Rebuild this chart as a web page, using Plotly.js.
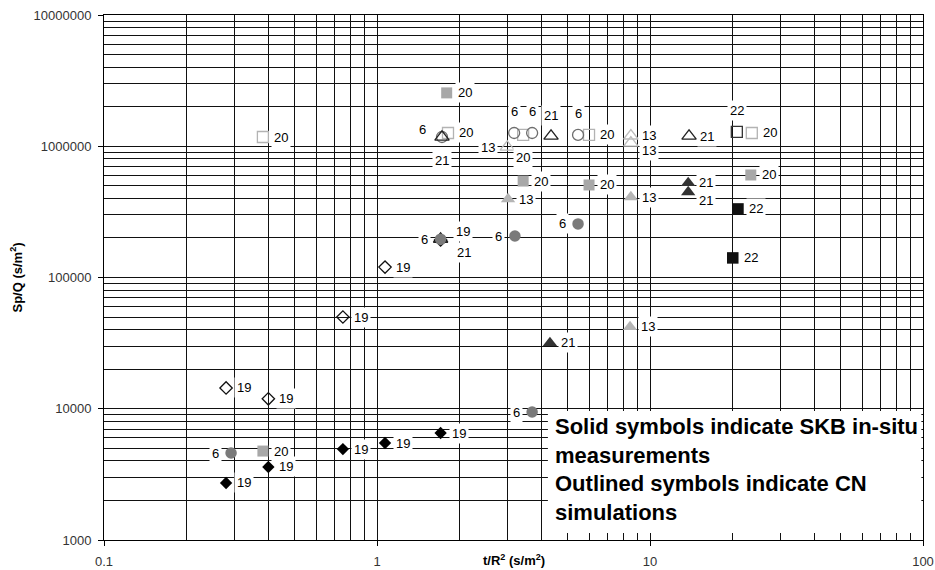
<!DOCTYPE html>
<html>
<head>
<meta charset="utf-8">
<script src="https://cdn.plot.ly/plotly-3.0.1.min.js"></script>
<style>
html,body{margin:0;padding:0;background:#fff;}
#chart{width:935px;height:570px;}
</style>
</head>
<body>
<div id="chart"></div>
<script>
// ---- Axis tick labels ----
const xTickVals = [0.1, 1, 10, 100];
const xTickText = ['0.1', '1', '10', '100'];
const yTickVals = [1000, 10000, 100000, 1000000, 10000000];
const yTickText = ['1000', '10000', '100000', '1000000', '10000000'];

// ---- Borehole 19 (diamonds) ----
const x19 = [0.28, 0.40, 0.75, 1.07, 1.71];
const skb19 = [2720, 3600, 4930, 5480, 6530];
const cn19 = [14400, 11900, 50000, 120000, 193000];

// ---- Borehole 6 (circles) ----
const xSkb6 = [0.292, 1.71, 3.20, 5.45, 3.70];
const skb6 = [4600, 196000, 207000, 256000, 9440];
const xCn6 = [1.73, 3.18, 3.70, 5.45];
const cn6 = [1176000, 1262000, 1262000, 1220000];

// ---- Borehole 20 (grey squares) ----
const x20 = [0.382, 1.80, 3.43, 5.98, 23.4];
const skb20 = [4760, 2550000, 543000, 507000, 604000];
const xCn20 = [0.382, 1.82, 3.43, 5.98, 23.6];
const cn20 = [1176000, 1262000, 1220000, 1220000, 1262000];

// ---- Borehole 13 (light grey triangles) ----
const xSkb13 = [3.02, 8.51, 8.45];
const skb13 = [396000, 410000, 42000];
const xCn13 = [3.00, 8.51, 8.51];
const cn13 = [987000, 1200000, 1060000];

// ---- Borehole 21 (dark triangles) ----
const xSkb21 = [4.30, 13.8, 13.8];
const skb21 = [31700, 525000, 448000];
const xCn21 = [1.73, 1.71, 4.34, 13.9];
const cn21 = [1176000, 196000, 1197000, 1197000];

// ---- Borehole 22 (black squares) ----
const xSkb22 = [21.0, 20.1];
const skb22 = [333000, 141000];
const xCn22 = [20.8];
const cn22 = [1285000];

// ---- Text ----
const yTitle = '<b>Sp/Q (s/m<sup>2</sup>)</b>';
const xTitle = '<b>t/R<sup>2</sup> (s/m<sup>2</sup>)</b>';
const noteLines = ['Solid symbols indicate SKB in-situ', 'measurements', 'Outlined symbols indicate CN', 'simulations'];

// ---- Series styling and label placement ----
const series = [
  {x: xCn13, y: cn13, label: '13', place: ['l2', 'r', 'rd'], symbol: 'triangle-up-open', color: '#bdbdbd', size: 12.5},
  {x: xCn20, y: cn20, label: '20', place: ['r', 'r', 'b', 'r', 'r'], symbol: 'square-open', color: '#b3b3b3', size: 11},
  {x: xCn6, y: cn6, label: '6', place: ['ul', 'a', 'a', 'a'], symbol: 'circle-open', color: '#6e6e6e', size: 11},
  {x: xCn21, y: cn21, label: '21', place: ['b', 'dr', 'a', 'r'], symbol: 'triangle-up-open', color: '#222222', size: 12.5},
  {x: xCn22, y: cn22, label: '22', place: ['a'], symbol: 'square-open', color: '#333333', size: 11},
  {x: x19, y: cn19, label: '19', place: ['r', 'r', 'r', 'r', 'ur'], symbol: 'diamond-open', color: '#111111', size: 9.5},
  {x: xSkb6, y: skb6, label: '6', place: ['l', 'l', 'l', 'l', 'l'], symbol: 'circle', color: '#7a7a7a', size: 11.5},
  {x: x19, y: skb19, label: '19', place: ['r', 'r', 'r', 'r', 'r'], symbol: 'diamond', color: '#000000', size: 9.5},
  {x: x20, y: skb20, label: '20', place: ['r', 'r', 'r', 'r', 'r'], symbol: 'square', color: '#a8a8a8', size: 11},
  {x: xSkb13, y: skb13, label: '13', place: ['r', 'r', 'r'], symbol: 'triangle-up', color: '#b5b5b5', size: 12.5},
  {x: xSkb21, y: skb21, label: '21', place: ['r', 'r', 'rd'], symbol: 'triangle-up', color: '#333333', size: 12.5},
  {x: xSkb22, y: skb22, label: '22', place: ['r', 'r'], symbol: 'square', color: '#111111', size: 11.5}
];

// label centre offsets relative to the marker, in pixels (dy positive = down)
const placeOffsets = {
  r: [18, 0], l: [-16, 0], l2: [-19, 0], a: [0, -21], b: [0, 23],
  ul: [-19, -8], ur: [22, -9], dr: [23, 13], rd: [18, 8]
};

const font = 'Arial, "Liberation Sans", sans-serif';

const traces = series.map(s => {
  const open = s.symbol.indexOf('open') >= 0;
  return {
    type: 'scatter', mode: 'markers', x: s.x, y: s.y,
    hoverinfo: 'skip', showlegend: false,
    marker: {
      symbol: s.symbol, size: s.size, color: s.color,
      line: open ? {width: 1.3, color: s.color} : {width: 0}
    }
  };
});

const annotations = [];
series.forEach(s => {
  s.x.forEach((xv, i) => {
    const off = placeOffsets[s.place[i]];
    annotations.push({
      x: Math.log10(xv), y: Math.log10(s.y[i]), xref: 'x', yref: 'y',
      text: s.label, showarrow: false, xanchor: 'center', yanchor: 'middle',
      xshift: off[0], yshift: -off[1],
      bgcolor: '#ffffff', borderpad: 2,
      font: {family: font, size: 13, color: '#000'}
    });
  });
});

// x axis title (sits on the tick-label row, as in the original)
annotations.push({
  xref: 'paper', yref: 'paper', x: 0.5, y: -0.038, xanchor: 'center', yanchor: 'middle',
  text: xTitle, showarrow: false, font: {family: font, size: 13, color: '#000'}
});

// note text
annotations.push({
  xref: 'paper', yref: 'paper', x: 0.549, y: 0.242, xanchor: 'left', yanchor: 'top',
  align: 'left', showarrow: false, borderpad: 0,
  text: noteLines.map(t => '<b>' + t + '</b>').join('<br>'),
  font: {family: font, size: 22, color: '#000'}
});

const gridColor = '#111111';

const layout = {
  width: 935, height: 570,
  margin: {l: 104, r: 12, t: 15, b: 30},
  paper_bgcolor: '#ffffff', plot_bgcolor: '#ffffff',
  font: {family: font, size: 13, color: '#222'},
  showlegend: false,
  xaxis: {
    type: 'log', range: [-1, 2], autorange: false,
    tickmode: 'array', tickvals: xTickVals, ticktext: xTickText,
    ticks: 'outside', ticklen: 5, tickcolor: '#000', ticklabelstandoff: 4,
    showgrid: true, gridcolor: gridColor, gridwidth: 1,
    minor: {dtick: 'D1', showgrid: true, gridcolor: gridColor, gridwidth: 1, ticks: ''},
    showline: true, linecolor: '#000', linewidth: 1, mirror: true,
    zeroline: false, tickfont: {family: font, size: 13, color: '#333'}
  },
  yaxis: {
    type: 'log', range: [3, 7], autorange: false,
    tickmode: 'array', tickvals: yTickVals, ticktext: yTickText,
    ticks: 'outside', ticklen: 5, tickcolor: '#000', ticklabelstandoff: 4,
    showgrid: true, gridcolor: gridColor, gridwidth: 1,
    minor: {dtick: 'D1', showgrid: true, gridcolor: gridColor, gridwidth: 1, ticks: ''},
    showline: true, linecolor: '#000', linewidth: 1, mirror: true,
    zeroline: false, tickfont: {family: font, size: 13, color: '#333'},
    title: {text: yTitle, font: {family: font, size: 13, color: '#000'}, standoff: 8}
  },
  shapes: [{
    type: 'rect', xref: 'paper', yref: 'paper', layer: 'above',
    x0: 0.542, x1: 0.998, y0: 0.0133, y1: 0.2457,
    fillcolor: '#ffffff', line: {width: 0}
  }],
  annotations: annotations
};

Plotly.newPlot('chart', traces, layout, {displayModeBar: false, staticPlot: true});
</script>
</body>
</html>
